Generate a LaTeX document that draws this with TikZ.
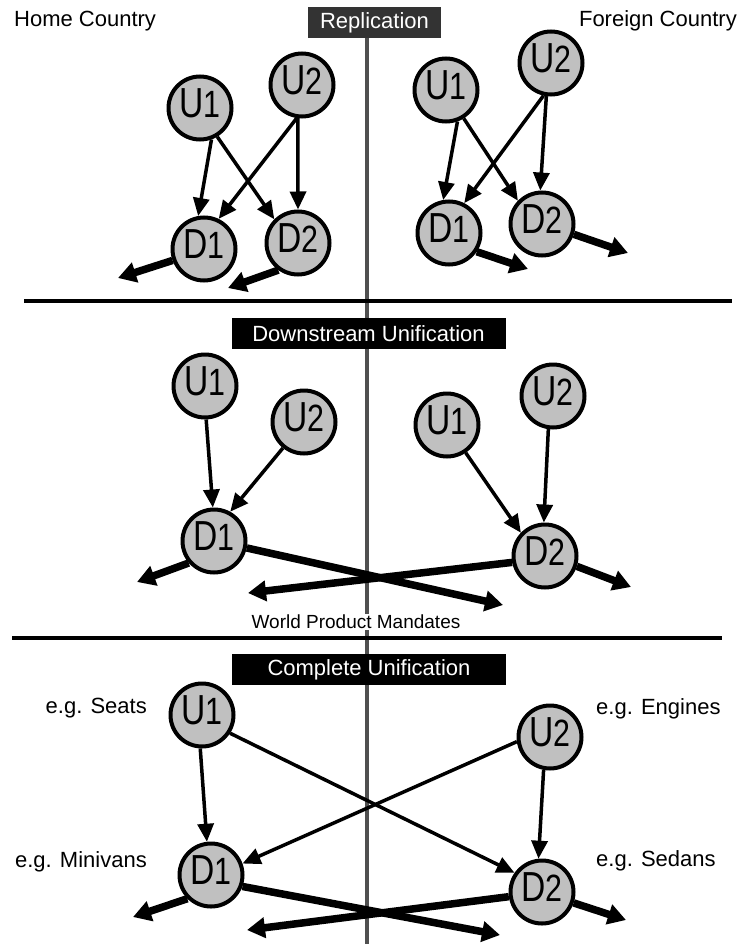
\documentclass[tikz,border=0pt]{standalone}
\usepackage{fontspec}
\setmainfont{Liberation Sans}
\newfontfamily\narrowsans{Liberation Sans}[FakeStretch=0.8]
\usetikzlibrary{arrows.meta}
\definecolor{nodegray}{RGB}{192,192,192}
\definecolor{linegray}{RGB}{80,80,80}
\definecolor{titlegray}{RGB}{51,51,51}
\newcommand{\firmlbl}[2]{{\narrowsans\fontsize{42}{42}\selectfont #1\fontsize{38}{38}\selectfont #2}}
\tikzset{
  firm/.style={circle,draw,fill=nodegray,line width=4pt,minimum size=63pt,inner sep=0pt,text depth=10pt},
  feed/.style={line width=3.5pt,-{Triangle[length=18pt,width=16pt]}},
  ship/.style={line width=7.5pt,-{Triangle[length=18pt,width=20pt]}},
  headbox/.style={fill=black,text=white,minimum height=31pt,inner sep=0pt,font=\fontsize{22}{22}\selectfont},
  tag/.style={inner sep=0pt,font=\fontsize{22}{22}\selectfont}
}
\begin{document}
\begin{tikzpicture}[x=1pt,y=-1pt]
\useasboundingbox (0,0) rectangle (738,944);
\draw[linegray,line width=4pt] (366.5,38) -- (366.5,944);
\draw[line width=4pt] (24,301) -- (732,301);
\draw[line width=4pt] (12,638) -- (722,638);
\node[headbox,fill=titlegray,minimum width=133pt](rep) at (374.5,22.5){Replication};
\node[headbox,minimum width=274pt](down) at (368.5,333.5){Downstream Unification};
\node[headbox,minimum width=274pt](comp) at (369,669.5){Complete Unification};
\node[tag,anchor=base west](home) at (14,27){Home Country};
\node[tag,anchor=base east](foreign) at (737,27){Foreign Country};
\node[tag,anchor=base east](seats) at (147,713){e.g. Seats};
\node[tag,anchor=base east](minivans) at (147,867){e.g. Minivans};
\node[tag,anchor=base west](engines) at (596,714){e.g. Engines};
\node[tag,anchor=base west](sedans) at (596,866){e.g. Sedans};
% replication
\node[firm](aU1) at (200,108){\firmlbl{U}{1}};
\node[firm](aU2) at (302,85){\firmlbl{U}{2}};
\node[firm](aD1) at (204,249){\firmlbl{D}{1}};
\node[firm](aD2) at (298,243){\firmlbl{D}{2}};
\node[firm](bU1) at (446,90){\firmlbl{U}{1}};
\node[firm](bU2) at (551,63){\firmlbl{U}{2}};
\node[firm](bD1) at (449,233){\firmlbl{D}{1}};
\node[firm](bD2) at (542,224){\firmlbl{D}{2}};
% downstream unification
\node[firm](cU1) at (205,386){\firmlbl{U}{1}};
\node[firm](cU2) at (304,422){\firmlbl{U}{2}};
\node[firm](cD1) at (214,541){\firmlbl{D}{1}};
\node[firm](dU1) at (447,425){\firmlbl{U}{1}};
\node[firm](dU2) at (553,396){\firmlbl{U}{2}};
\node[firm](dD2) at (545,556){\firmlbl{D}{2}};
\node[fill=white,inner sep=1pt,font=\fontsize{19}{19}\selectfont](wpm) at (356,622){World Product Mandates};
% complete unification
\node[firm](eU1) at (202,715){\firmlbl{U}{1}};
\node[firm](eD1) at (211,875){\firmlbl{D}{1}};
\node[firm](fU2) at (550,737){\firmlbl{U}{2}};
\node[firm](fD2) at (542,892){\firmlbl{D}{2}};
% free ends
\coordinate (aD1o) at (118,278);
\coordinate (aD2o) at (228,288);
\coordinate (bD1o) at (528,269);
\coordinate (bD2o) at (628,253);
\coordinate (cD1o) at (137,582);
\coordinate (cD1x) at (503,605);
\coordinate (dD2o) at (631,587);
\coordinate (dD2x) at (248,593);
\coordinate (eD1o) at (133,917);
\coordinate (eD1x) at (500,935);
\coordinate (fD2o) at (626,920);
\coordinate (fD2x) at (247,930);
\foreach \from/\to in {aU1.-70/aD1.100,aU1.-59/aD2.135,aU2.-99/aD1.64,aU2.-97/aD2.90,
  bU1.-70/bD1.100,bU1.-58/bD2.136,bU2.-103/bD1.63,bU2.-98/bD2.93,
  cU1.-88/cD1.92,cU2.-129/cD1.61,dU1.-56/dD2.136,dU2.-98/dD2.92,
  eU1.-93/eD1.97,eU1.-33/fD2.145,fU2.188/eD1.20,fU2.-101/fD2.96}
 \draw[feed] (\from) -- (\to);
\foreach \from/\to in {aD1.-160/aD1o,aD2.-126/aD2o,bD1.-34/bD1o,bD2.-18/bD2o,
  cD1.-139/cD1o,cD1.-12/cD1x,dD2.-18/dD2o,dD2.191/dD2x,
  eD1.-135/eD1o,eD1.-20/eD1x,fD2.-19/fD2o,fD2.188/fD2x}
 \draw[ship] (\from) -- (\to);
\end{tikzpicture}
\end{document}
